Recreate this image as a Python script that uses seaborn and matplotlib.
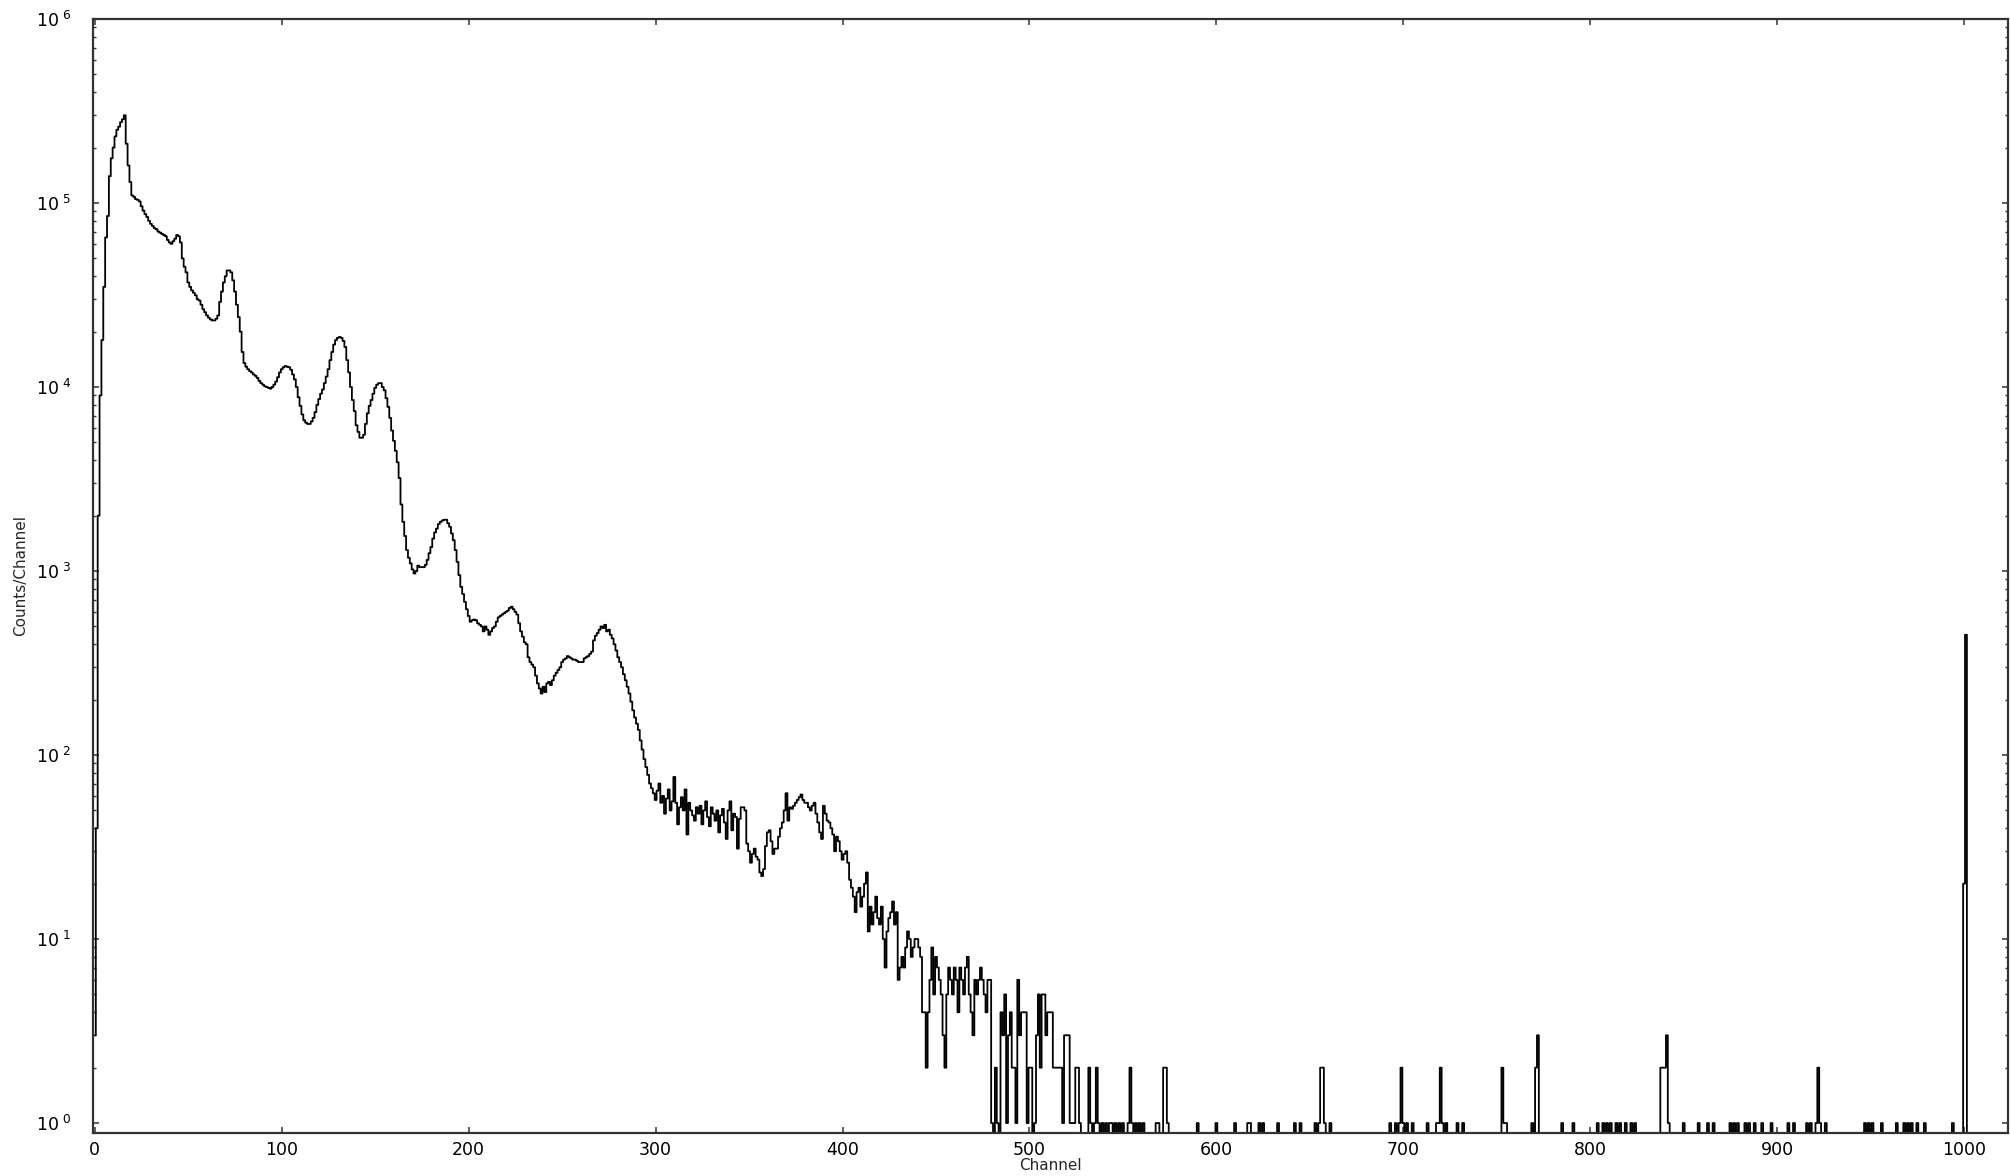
import numpy as np
import pandas as pd
import seaborn as sns
import matplotlib.pyplot as plt
from matplotlib.ticker import FixedLocator, FuncFormatter

# counts per channel
counts_000_099 = [
    3, 40, 2000, 9000, 18000, 35000, 65000, 85000, 140000, 175000,
    200000, 230000, 250000, 260000, 275000, 285000, 300000, 210000, 160000, 130000,
    110000, 108000, 105000, 104000, 102000, 96000, 91000, 87000, 84000, 80000,
    77000, 75000, 73000, 72000, 70000, 69000, 68000, 67000, 66000, 63000,
    61000, 60000, 62000, 64000, 67000, 66000, 61000, 50000, 45000, 42000,
    37000, 35000, 33500, 32500, 31500, 30000, 29500, 28000, 26500, 25500,
    24500, 23800, 23300, 23000, 23000, 23500, 24500, 29000, 33000, 37000,
    40000, 43000, 43000, 42000, 38000, 33000, 28000, 24000, 20000, 15500,
    13500, 12900, 12500, 12200, 12000, 11700, 11500, 11200, 10800, 10500,
    10300, 10100, 10000, 9900, 9800, 10000, 10300, 10700, 11300, 12000,
]
counts_100_199 = [
    12500, 12800, 13000, 12900, 12800, 12400, 11700, 11000, 10000, 8800,
    7900, 7100, 6600, 6400, 6300, 6300, 6500, 6800, 7300, 8000,
    8600, 9200, 9700, 10500, 11400, 12500, 14000, 15500, 17000, 18000,
    18500, 18700, 18500, 17800, 16500, 14000, 12000, 10000, 8500, 7400,
    6200, 5700, 5300, 5300, 5500, 6300, 7200, 7900, 8500, 9200,
    9900, 10300, 10500, 10500, 10000, 9600, 8700, 7800, 6800, 5800,
    5100, 4500, 3900, 3200, 2300, 1850, 1550, 1300, 1180, 1100,
    1020, 970, 1000, 1070, 1050, 1050, 1050, 1080, 1150, 1250,
    1350, 1500, 1620, 1700, 1800, 1850, 1880, 1900, 1900, 1820,
    1740, 1600, 1470, 1300, 1120, 950, 820, 750, 680, 620,
]
counts_200_299 = [
    570, 530, 540, 545, 540, 520, 510, 500, 470, 500,
    480, 450, 470, 490, 500, 530, 560, 570, 580, 590,
    600, 610, 630, 640, 620, 600, 580, 520, 470, 440,
    410, 400, 340, 320, 310, 300, 270, 245, 230, 216,
    235, 220, 245, 250, 240, 255, 270, 280, 290, 300,
    320, 330, 335, 345, 340, 335, 330, 330, 325, 320,
    320, 320, 335, 340, 345, 355, 365, 420, 445, 460,
    480, 500, 490, 510, 470, 480, 450, 430, 400, 370,
    340, 320, 300, 275, 255, 235, 216, 195, 175, 160,
    148, 137, 120, 107, 95, 86, 78, 70, 66, 62,
]
counts_300_399 = [
    57, 64, 70, 55, 60, 48, 58, 65, 50, 56,
    76, 55, 42, 52, 59, 50, 65, 37, 55, 50,
    47, 44, 52, 48, 53, 42, 50, 56, 46, 41,
    52, 48, 44, 50, 38, 47, 51, 43, 35, 50,
    56, 39, 48, 46, 31, 45, 52, 52, 50, 33,
    30, 26, 29, 31, 28, 27, 23, 22, 24, 32,
    38, 39, 34, 29, 31, 31, 36, 40, 43, 50,
    62, 44, 52, 51, 53, 55, 57, 59, 61, 57,
    55, 55, 52, 50, 53, 55, 48, 43, 38, 35,
    53, 48, 44, 43, 40, 37, 30, 36, 34, 30,
]
counts_400_499 = [
    27, 29, 30, 26, 21, 19, 17, 14, 18, 19,
    15, 17, 20, 23, 11, 15, 12, 14, 17, 13,
    12, 15, 10, 7, 11, 13, 14, 16, 12, 14,
    6, 7, 8, 7, 9, 11, 10, 8, 9, 10,
    10, 9, 8, 4, 4, 2, 4, 6, 9, 5,
    8, 7, 6, 5, 3, 2, 5, 7, 6, 5,
    7, 6, 4, 7, 6, 5, 7, 8, 5, 4,
    3, 6, 5, 6, 7, 6, 5, 4, 6, 6,
    1, 0, 2, 1, 0, 4, 3, 5, 1, 3,
    4, 2, 2, 1, 6, 3, 4, 4, 4, 1,
]
counts_500_529 = [
    2, 2, 0, 1, 3, 5, 2, 5, 5, 3,
    4, 4, 4, 2, 2, 2, 2, 2, 1, 3,
    3, 3, 1, 1, 1, 2, 2, 1, 0, 0,
]

# sparse tail above channel 530 (all other channels are empty)
tail_channels = [
    532, 533, 535, 536, 537, 539, 541, 543, 544, 546, 548, 550, 553, 554, 555,
    557, 559, 561, 568, 569, 572, 573, 574, 590, 600, 610, 617, 618, 623, 625,
    633, 642, 645, 653, 655, 656, 657, 658, 661, 693, 696, 698, 699, 700, 702,
    705, 713, 718, 719, 720, 721, 723, 729, 732, 753, 754, 755, 769, 771, 772,
    785, 791, 804, 807, 809, 811, 814, 816, 819, 822, 824, 838, 839, 840, 841,
    842, 850, 858, 863, 866, 875, 877, 879, 883, 885, 888, 892, 897, 906, 909,
    916, 918, 921, 922, 923, 926, 947, 949, 951, 956, 964, 968, 970, 972, 975,
    979, 994, 1000, 1001,
]
tail_counts = [
    2, 1, 1, 2, 1, 1, 1, 1, 1, 1, 1, 1, 1, 2, 1,
    1, 1, 1, 1, 1, 2, 2, 1, 1, 1, 1, 1, 1, 1, 1,
    1, 1, 1, 1, 1, 2, 2, 1, 1, 1, 1, 1, 2, 1, 1,
    1, 1, 1, 1, 2, 1, 1, 1, 1, 2, 1, 1, 1, 2, 3,
    1, 1, 1, 1, 1, 1, 1, 1, 1, 1, 1, 2, 2, 2, 3,
    1, 1, 1, 1, 1, 1, 1, 1, 1, 1, 1, 1, 1, 1, 1,
    1, 1, 1, 2, 1, 1, 1, 1, 1, 1, 1, 1, 1, 1, 1,
    1, 1, 20, 450,
]

n_channels = 1024
x_ticks = list(range(0, 1001, 100))
y_decades = list(range(0, 7))


def build_spectrum():
    counts = np.zeros(n_channels)
    head = (counts_000_099 + counts_100_199 + counts_200_299
            + counts_300_399 + counts_400_499 + counts_500_529)
    counts[:len(head)] = head
    counts[tail_channels] = tail_counts
    return pd.DataFrame({'Channel': np.arange(n_channels), 'Counts': counts})


def decade_label(v, pos):
    k = int(round(np.log10(v)))
    return r'$\mathdefault{10}^{\ \mathdefault{%d}}$' % k


def set_style():
    sns.set_style("ticks")
    plt.rcParams.update({
        'font.size': 12,
        'axes.linewidth': 1.6,
        'axes.edgecolor': '#333333',
        'xtick.labelsize': 12.5,
        'ytick.labelsize': 12.5,
        'xtick.color': '#333333',
        'ytick.color': '#333333',
        'xtick.labelcolor': 'black',
        'ytick.labelcolor': 'black',
    })
    plt.rcParams['font.family'] = ['DejaVu Sans']


def main():
    set_style()
    df = build_spectrum()

    fig = plt.figure(figsize=(20.1, 11.76), dpi=100)
    ax = fig.add_axes([93 / 2010, 43 / 1176, 1915 / 2010, 1114 / 1176])

    sns.lineplot(data=df, x='Channel', y='Counts', ax=ax, color='black',
                 linewidth=1.3, estimator=None, errorbar=None, sort=False,
                 drawstyle='steps-mid')

    ax.set_yscale('log', nonpositive='clip')
    ax.set_ylim(0.883, 1e6)
    ax.set_xlim(-1, 1023.5)
    ax.set_xticks(x_ticks)
    major = [10.0 ** k for k in y_decades]
    minor = [m * 10.0 ** k for k in y_decades[:-1] for m in range(2, 10)]
    ax.yaxis.set_major_locator(FixedLocator(major))
    ax.yaxis.set_minor_locator(FixedLocator(minor))
    ax.yaxis.set_major_formatter(FuncFormatter(decade_label))
    ax.yaxis.set_minor_formatter(FuncFormatter(lambda v, pos: ''))

    ax.tick_params(axis='both', which='both', direction='in', top=True, right=True)
    ax.tick_params(axis='both', which='major', length=4.5, width=1.1)
    ax.tick_params(axis='y', which='minor', length=2.5, width=1.0)
    ax.tick_params(axis='x', which='major', pad=6)
    ax.tick_params(axis='y', which='major', pad=16)

    ax.set_xlabel('Channel', fontsize=11, labelpad=-1)
    ax.set_ylabel('Counts/Channel', fontsize=11)
    ax.yaxis.set_label_coords(-0.034, 0.5)

    for side in ['top', 'right', 'bottom', 'left']:
        ax.spines[side].set_visible(True)

    fig.savefig('out.png', dpi=100)


if __name__ == "__main__":
    main()
